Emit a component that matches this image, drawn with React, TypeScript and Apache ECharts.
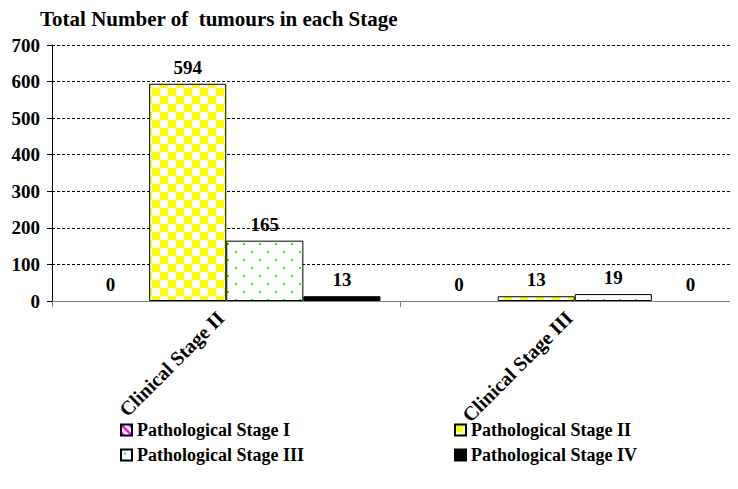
import React, { useEffect, useRef } from "react";
import * as echarts from "echarts";

const titleText = "Total Number of  tumours in each Stage";
const categories = ["Clinical Stage II", "Clinical Stage III"];
const seriesNames = [
  "Pathological Stage I",
  "Pathological Stage II",
  "Pathological Stage III",
  "Pathological Stage IV",
];
const stageI = [0, 0];
const stageII = [594, 13];
const stageIII = [165, 19];
const stageIV = [13, 0];
const yTicks = { min: 0, max: 700, interval: 100 };

function makeCanvas(w: number, h: number, draw: (ctx: CanvasRenderingContext2D) => void) {
  const c = document.createElement("canvas");
  c.width = w;
  c.height = h;
  const ctx = c.getContext("2d")!;
  draw(ctx);
  return c;
}

function patterns() {
  const stripes = makeCanvas(8, 8, (ctx) => {
    ctx.fillStyle = "#ffffff";
    ctx.fillRect(0, 0, 8, 8);
    ctx.strokeStyle = "#ff00ff";
    ctx.lineWidth = 2.5;
    ctx.beginPath();
    ctx.moveTo(-2, -2);
    ctx.lineTo(10, 10);
    ctx.moveTo(-6, 2);
    ctx.lineTo(6, 14);
    ctx.moveTo(2, -6);
    ctx.lineTo(14, 6);
    ctx.stroke();
  });
  const checker = makeCanvas(16, 16, (ctx) => {
    ctx.fillStyle = "#ffffff";
    ctx.fillRect(0, 0, 16, 16);
    ctx.fillStyle = "#ffff00";
    ctx.fillRect(0, 0, 8, 8);
    ctx.fillRect(8, 8, 8, 8);
  });
  const dots = makeCanvas(16, 16, (ctx) => {
    ctx.fillStyle = "#ffffff";
    ctx.fillRect(0, 0, 16, 16);
    ctx.fillStyle = "#22ee22";
    ctx.fillRect(3, 3, 2, 2);
    ctx.fillRect(11, 11, 2, 2);
  });
  const mk = (c: HTMLCanvasElement) => ({
    image: c,
    repeat: "repeat",
    imageWidth: c.width,
    imageHeight: c.height,
  });
  return [mk(stripes), mk(checker), mk(dots), "#000000"];
}

export default function App() {
  const ref = useRef<HTMLDivElement>(null);
  useEffect(() => {
    if (!ref.current) return;
    const chart = echarts.init(ref.current, null, { renderer: "svg" });
    const fills = patterns();
    const font = "Liberation Serif";
    const data = [stageI, stageII, stageIII, stageIV];
    const legendText = { fontFamily: font, fontWeight: "bold", fontSize: 18, color: "#000" };
    chart.setOption({
      animation: false,
      backgroundColor: "#ffffff",
      title: {
        text: titleText,
        left: 35,
        top: 3,
        textStyle: { fontFamily: font, fontWeight: "bold", fontSize: 21, color: "#000" },
      },
      legend: [
        {
          data: [seriesNames[0], seriesNames[2]],
          orient: "vertical",
          left: 120,
          top: 421,
          padding: 0,
          itemWidth: 11,
          itemHeight: 11,
          itemGap: 7,
          icon: "rect",
          textStyle: legendText,
        },
        {
          data: [seriesNames[1], seriesNames[3]],
          orient: "vertical",
          left: 454,
          top: 421,
          padding: 0,
          itemWidth: 11,
          itemHeight: 11,
          itemGap: 7,
          icon: "rect",
          textStyle: legendText,
        },
      ],
      grid: { left: 52, top: 45, bottom: 188, width: 697, outerBoundsMode: "none" },
      xAxis: {
        type: "category",
        data: categories,
        axisLine: { lineStyle: { color: "#808080", width: 1 } },
        axisTick: { show: true, length: 6, lineStyle: { color: "#808080" } },
        axisLabel: {
          rotate: 45,
          margin: 8,
          padding: [0, 8, 0, 0],
          fontFamily: font,
          fontWeight: "bold",
          fontSize: 20,
          color: "#000",
        },
      },
      yAxis: {
        type: "value",
        min: yTicks.min,
        max: yTicks.max,
        interval: yTicks.interval,
        axisLine: { show: true, lineStyle: { color: "#000", width: 1 } },
        axisTick: { show: true, length: 5, lineStyle: { color: "#000" } },
        axisLabel: {
          margin: 12,
          fontFamily: font,
          fontWeight: "bold",
          fontSize: 19,
          color: "#000",
        },
        splitLine: { show: true, lineStyle: { color: "#000", type: [3, 2], width: 1 } },
      },
      series: seriesNames.map((name, i) => ({
        name,
        type: "bar",
        data: data[i].map((v) =>
          v === 0 ? { value: v, itemStyle: { borderWidth: 0 } } : v
        ),
        barGap: "0%",
        barCategoryGap: "11.5%",
        itemStyle: { color: fills[i], borderColor: "#000", borderWidth: 1 },
        label: {
          show: true,
          position: "top",
          distance: 7,
          fontFamily: font,
          fontWeight: "bold",
          fontSize: 19,
          color: "#000",
        },
        emphasis: { disabled: true },
      })),
    });
    return () => chart.dispose();
  }, []);
  return <div ref={ref} style={{ width: 738, height: 489, margin: -8 }} />;
}
